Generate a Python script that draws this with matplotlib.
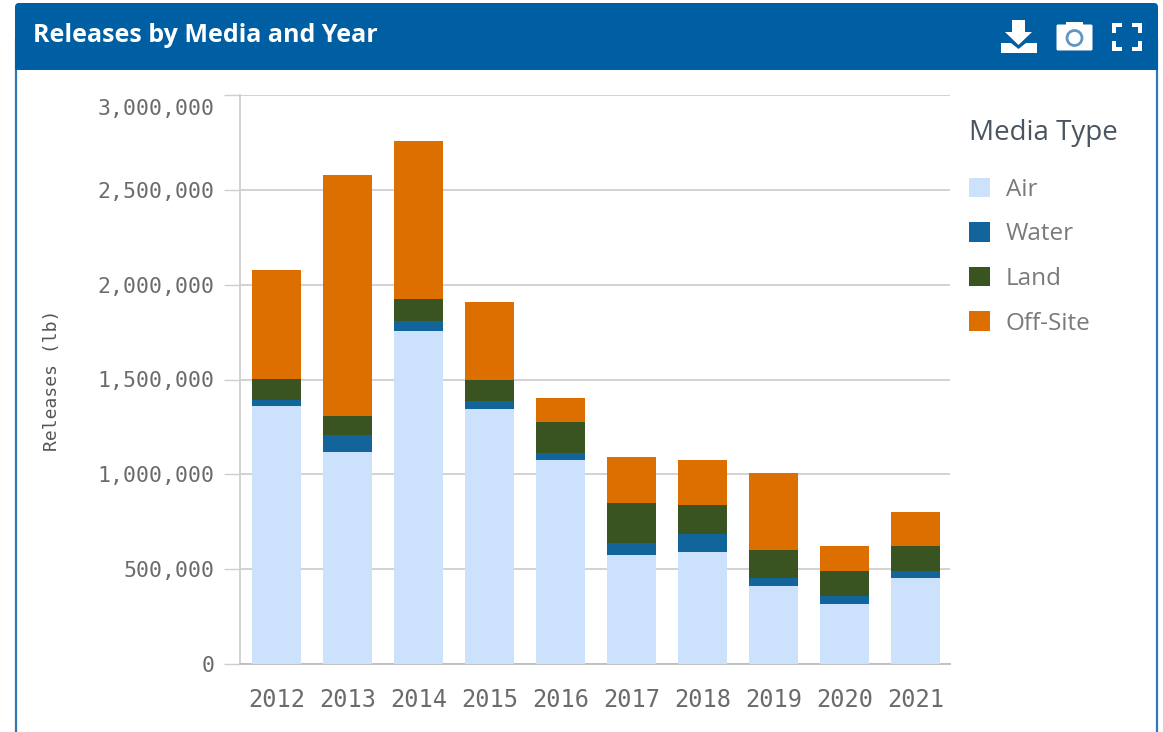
import matplotlib
matplotlib.use("Agg")
import matplotlib.pyplot as plt
from matplotlib.patches import Rectangle, Polygon, Circle, FancyBboxPatch
from matplotlib.ticker import FuncFormatter
from matplotlib.transforms import ScaledTranslation
import numpy as np

W, H = 1163, 732

years = ["2012", "2013", "2014", "2015", "2016", "2017", "2018", "2019", "2020", "2021"]
air = [1360000, 1118000, 1756000, 1344000, 1076000, 575000, 590000, 411000, 316000, 453000]
water = [32000, 89000, 52000, 43000, 36000, 63000, 95000, 42000, 42000, 37000]
land = [111000, 101000, 116000, 110000, 164000, 211000, 153000, 148000, 132000, 132000]
offsite = [574000, 1270000, 833000, 412000, 126000, 242000, 238000, 406000, 132000, 179000]

media = ["Air", "Water", "Land", "Off-Site"]
series = [air, water, land, offsite]
colors = ["#CCE2FC", "#12659A", "#3A5421", "#DD6E00"]
yticks = [0, 500000, 1000000, 1500000, 2000000, 2500000, 3000000]

BLUE = "#005EA2"
GREY = "#6B6B6B"
GRID = "#CFCFCF"
UI = ["Open Sans", "DejaVu Sans"]
MONO = ["DejaVu Sans Mono"]

fig = plt.figure(figsize=(W / 100, H / 100), dpi=100, facecolor="white")


def box(left, top, right, bottom):
    return [left / W, 1 - bottom / H, (right - left) / W, (bottom - top) / H]


# panel chrome in pixel coordinates
ui = fig.add_axes([0, 0, 1, 1], zorder=0)
ui.set_xlim(0, W)
ui.set_ylim(H, 0)
ui.axis("off")
ui.add_patch(Rectangle((15.5, 40), 1141.5, 720, fc="white", ec="#2F78B4", lw=1.6))
ui.add_patch(FancyBboxPatch((19, 7), 1135, 59, boxstyle="round,pad=4", fc=BLUE, ec=BLUE, lw=0))
ui.add_patch(Rectangle((15, 30), 1143, 40, fc=BLUE, ec="none"))
ui.text(33, 36, "Releases by Media and Year", color="white", fontsize=18, fontweight="bold",
        family=UI, va="center", ha="left")

# download icon
ui.add_patch(Polygon([(1012, 20), (1025, 20), (1025, 32), (1032, 32), (1018.5, 45), (1005, 32), (1012, 32)],
                     fc="white", ec="none"))
ui.add_patch(Polygon([(1001, 43), (1011, 43), (1018.5, 49), (1026, 43), (1037, 43), (1037, 53), (1001, 53)],
                     fc="white", ec="none"))
# camera icon
ui.add_patch(FancyBboxPatch((1058, 26), 33, 23, boxstyle="round,pad=1.5", fc="white", ec="none"))
ui.add_patch(Rectangle((1066, 22), 17, 6, fc="white", ec="none"))
ui.add_patch(Circle((1074.5, 38), 7.5, fc="white", ec="#5F96C4", lw=2))
# full-screen icon
for cx, cy, sx, sy in [(1112, 23, 1, 1), (1142, 23, -1, 1), (1112, 51, 1, -1), (1142, 51, -1, -1)]:
    ui.add_patch(Rectangle((cx, cy), sx * 10, sy * 4, fc="white", ec="none"))
    ui.add_patch(Rectangle((cx, cy), sx * 4, sy * 10, fc="white", ec="none"))

# chart
ax = fig.add_axes(box(240, 95, 950, 664), zorder=1)
ax.patch.set_alpha(0)
x = np.arange(len(years))
bottom = np.zeros(len(years))
for name, values, color in zip(media, series, colors):
    ax.bar(x, values, 0.704, bottom=bottom, color=color, label=name, zorder=3, linewidth=0)
    bottom = bottom + np.array(values)

ax.set_xlim(-0.514, 9.486)
ax.set_ylim(0, 3000000)
ax.set_xticks(x, years)
ax.set_yticks(yticks)
ax.yaxis.set_major_formatter(FuncFormatter(lambda v, _: f"{int(v):,}"))
ax.grid(axis="y", color=GRID, lw=1.3, zorder=1)
ax.set_axisbelow(True)
for side in ["top", "right"]:
    ax.spines[side].set_visible(False)
ax.spines["left"].set_color(GRID)
ax.spines["left"].set_linewidth(1.3)
ax.spines["bottom"].set_color("#BDBDBD")
ax.spines["bottom"].set_linewidth(1.3)
ax.tick_params(axis="y", length=11.5, width=1, color=GRID, pad=7, labelcolor=GREY, labelsize=15.5)
ax.tick_params(axis="x", length=0, pad=17, labelcolor=GREY, labelsize=17)
for lab in ax.get_xticklabels() + ax.get_yticklabels():
    lab.set_family(MONO)

# the top label sits below its gridline in the reference
top_label = ax.get_yticklabels()[-1]
top_label.set_transform(top_label.get_transform() + ScaledTranslation(0, -12 / 100, fig.dpi_scale_trans))

ui.text(52, 380, "Releases (lb)", rotation=90, color="#555555", fontsize=13, family=MONO,
        ha="center", va="center")

leg = ax.legend(
    title="Media Type",
    loc="upper left",
    bbox_to_anchor=(969 / W, 1 - 119 / H),
    bbox_transform=fig.transFigure,
    frameon=False,
    alignment="left",
    prop={"family": UI, "size": 17.5},
    title_fontproperties={"family": UI, "size": 20},
    borderaxespad=0,
    borderpad=0,
    handlelength=0.864,
    handleheight=0.864,
    handletextpad=0.64,
    labelspacing=0.84,
)
leg.get_title().set_color("#4A5560")
leg._legend_box.sep = 22
for t in leg.get_texts():
    t.set_color("#7A7A7A")

fig.savefig("out.png", dpi=100, facecolor="white")
